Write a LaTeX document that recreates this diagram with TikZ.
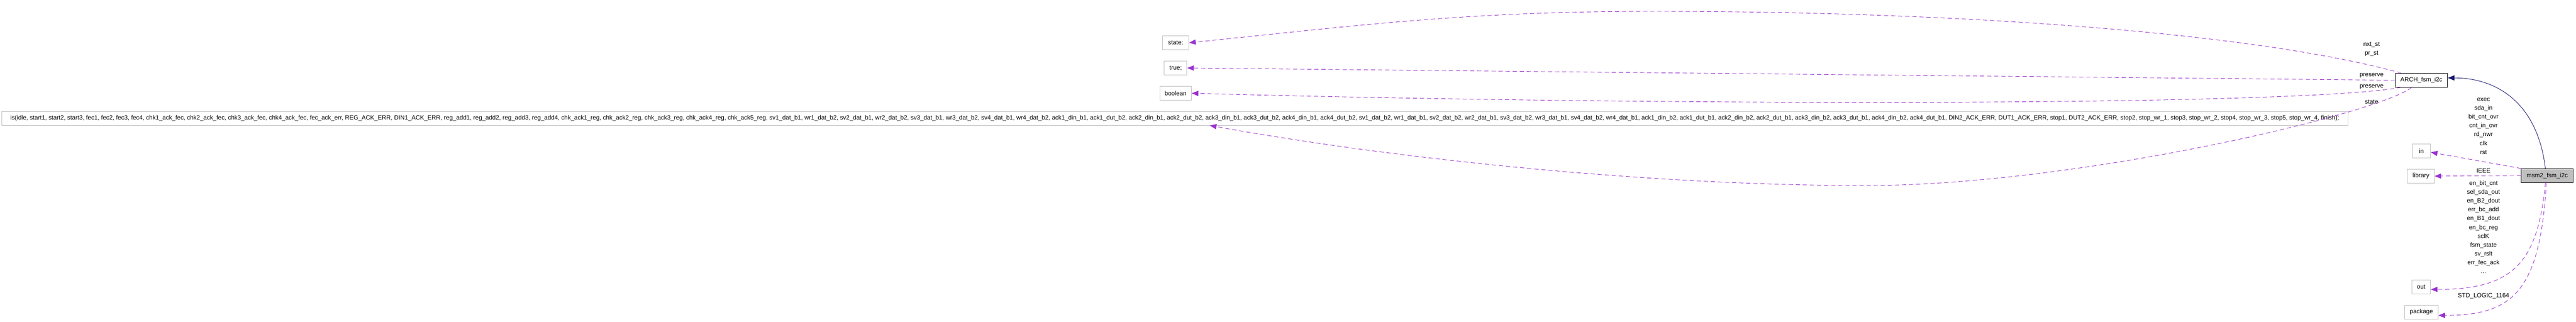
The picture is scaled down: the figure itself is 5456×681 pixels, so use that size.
\documentclass[tikz,border=0pt]{standalone}
\usepackage{fontspec}
\setmainfont{Liberation Sans}
\usetikzlibrary{arrows.meta}
\definecolor{edgepurple}{HTML}{9A32CD}
\definecolor{edgeblue}{HTML}{191970}
\definecolor{boxgray}{HTML}{BFBFBF}
\tikzset{
  box/.style={draw=boxgray, line width=1pt, fill=white, minimum height=29.5pt, inner sep=0pt, font=\fontsize{13}{18.7}\selectfont},
  docbox/.style={box, draw=black},
  curbox/.style={box, draw=black, fill=boxgray},
  lbl/.style={inner sep=0pt, align=center, font=\fontsize{13}{18.7}\selectfont},
  dashedge/.style={draw=edgepurple, line width=1pt, dash pattern=on 9pt off 6pt, -{Triangle[length=14pt,width=11pt]}},
  blueedge/.style={draw=edgeblue, line width=1pt, -{Triangle[length=14pt,width=11pt]}}
}
\begin{document}
\begin{tikzpicture}[x=1pt,y=-1pt]
        \useasboundingbox (0,0) rectangle (5456,681);
        \foreach \nm/\txt/\ypos/\bw in {st/state;/90.5/56, tr/true;/144/48, bo/boolean/197.5/67}
            \node[box, minimum width=\bw pt] (\nm) at (2490,\ypos) {\txt};
        \node[box, minimum width=4969pt] (enumt) at (2488.5,250.5) {is(idle, start1, start2, start3, fec1, fec2, fec3, fec4, chk1\_ack\_fec, chk2\_ack\_fec, chk3\_ack\_fec, chk4\_ack\_fec, fec\_ack\_err, REG\_ACK\_ERR, DIN1\_ACK\_ERR, reg\_add1, reg\_add2, reg\_add3, reg\_add4, chk\_ack1\_reg, chk\_ack2\_reg, chk\_ack3\_reg, chk\_ack4\_reg, chk\_ack5\_reg, sv1\_dat\_b1, wr1\_dat\_b2, sv2\_dat\_b1, wr2\_dat\_b2, sv3\_dat\_b1, wr3\_dat\_b2, sv4\_dat\_b1, wr4\_dat\_b2, ack1\_din\_b1, ack1\_dut\_b2, ack2\_din\_b1, ack2\_dut\_b2, ack3\_din\_b1, ack3\_dut\_b2, ack4\_din\_b1, ack4\_dut\_b2, sv1\_dat\_b2, wr1\_dat\_b1, sv2\_dat\_b2, wr2\_dat\_b1, sv3\_dat\_b2, wr3\_dat\_b1, sv4\_dat\_b2, wr4\_dat\_b1, ack1\_din\_b2, ack1\_dut\_b1, ack2\_din\_b2, ack2\_dut\_b1, ack3\_din\_b2, ack3\_dut\_b1, ack4\_din\_b2, ack4\_dut\_b1, DIN2\_ACK\_ERR, DUT1\_ACK\_ERR, stop1, DUT2\_ACK\_ERR, stop2, stop\_wr\_1, stop3, stop\_wr\_2, stop4, stop\_wr\_3, stop5, stop\_wr\_4, finish);};
        \node[docbox, minimum width=111pt] (arch) at (5128.5,170) {ARCH\_fsm\_i2c};
        \node[curbox, minimum width=110pt] (msm) at (5395,372) {msm2\_fsm\_i2c};
        \node[box, minimum width=39pt] (in) at (5128.5,319.5) {in};
        \node[box, minimum width=57pt] (lib) at (5127.5,373) {library};
        \node[box, minimum width=40pt] (out) at (5128,608) {out};
        \node[box, minimum width=71pt] (pkg) at (5128.5,661) {package};
        \node[lbl] (lnxt) at (5023,104) {nxt\_st\\pr\_st};
        \node[lbl] (lpre1) at (5023,160) {preserve};
        \node[lbl] (lpre2) at (5023,184) {preserve};
        \node[lbl] (lstate) at (5023,216) {state};
        \node[lbl] (lin) at (5260,267) {exec\\sda\_in\\bit\_cnt\_ovr\\cnt\_in\_ovr\\rd\_nwr\\clk\\rst};
        \node[lbl] (lieee) at (5260,362) {IEEE};
        \node[lbl] (lout) at (5260,481) {en\_bit\_cnt\\sel\_sda\_out\\en\_B2\_dout\\err\_bc\_add\\en\_B1\_dout\\en\_bc\_reg\\sclK\\fsm\_state\\sv\_rslt\\err\_fec\_ack\\...};
        \node[lbl] (lpkg) at (5260,627) {STD\_LOGIC\_1164};
        \draw[dashedge] ([xshift=13pt]arch.north west) .. controls (4800,75) and (4200,24) .. (3500,24) .. controls (3100,24) and (2868,55) .. (st.east);
        \draw[dashedge] (arch.west) -- (tr.east);
        \draw[dashedge] ([xshift=13pt]arch.south west) .. controls (4850,226) and (3500,224) .. (bo.east);
        \draw[dashedge] ([xshift=35pt]arch.south west) .. controls (5040,240) and (4400,393) .. (3950,393) .. controls (3500,393) and (2962,338) .. ([xshift=74pt]enumt.south);
        \draw[blueedge] ([xshift=-4pt]msm.north) .. controls (5375,220) and (5290,165) .. ([yshift=5pt]arch.east);
        \draw[dashedge] (msm.north west) -- ([yshift=-3pt]in.east);
        \draw[dashedge] (msm.west) -- (lib.east);
        \draw[dashedge] ([xshift=-4pt]msm.south) .. controls (5375,560) and (5320,613) .. ([yshift=-5pt]out.east);
        \draw[dashedge] ([xshift=-2pt]msm.south) .. controls (5380,620) and (5320,668) .. ([yshift=-7pt]pkg.east);
\end{tikzpicture}
\end{document}
